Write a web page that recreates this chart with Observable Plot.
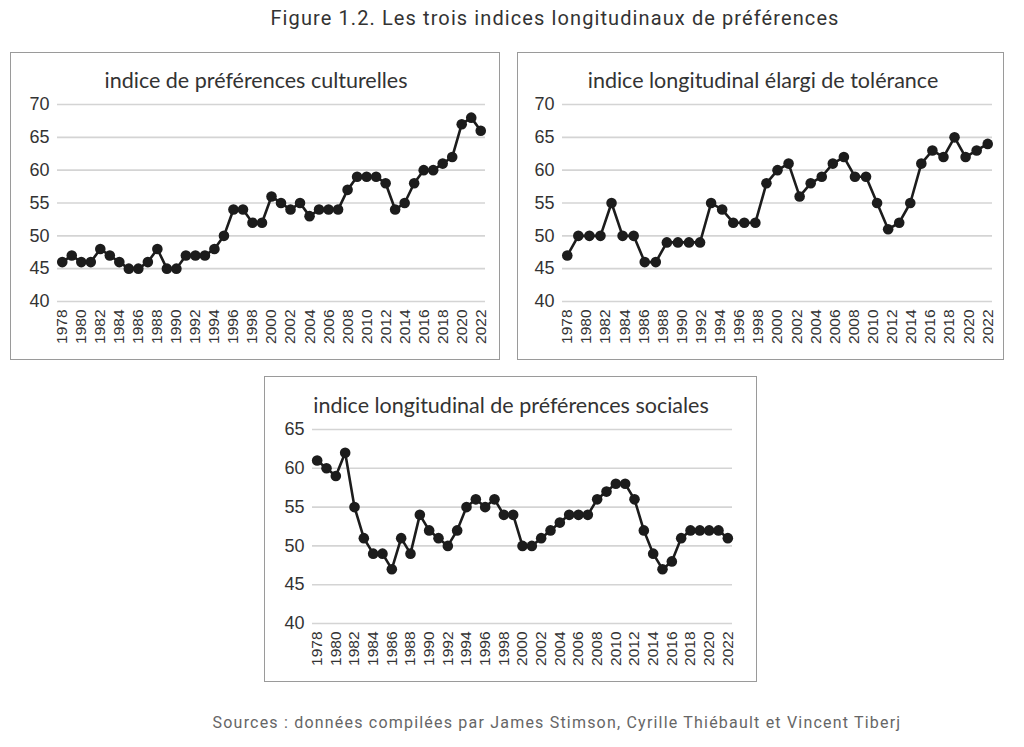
<!DOCTYPE html>
<html><head><meta charset="utf-8">
<script src="https://cdn.jsdelivr.net/npm/d3@7"></script>
<script src="https://cdn.jsdelivr.net/npm/@observablehq/plot@0.6"></script>
<style>
body{margin:0;background:#fff;}
#page{position:relative;width:1024px;height:747px;overflow:hidden;background:#fff;}
.frame{position:absolute;border:1.5px solid #9a9a9a;box-sizing:border-box;}
.ptitle{position:absolute;font-family:Lato,"Open Sans",sans-serif;font-size:21.5px;color:#333;white-space:nowrap;transform:translate(-50%,-50%);}
.chart{position:absolute;}
.ftitle{position:absolute;font-family:Roboto,sans-serif;font-size:20px;color:#333;white-space:nowrap;transform:translate(-50%,-50%);letter-spacing:1.1px;}
.caption{position:absolute;font-family:Roboto,sans-serif;font-size:16px;color:#666;white-space:nowrap;transform:translate(-50%,-50%);letter-spacing:1.2px;}
</style></head><body><div id="page"></div>
<script>
// ---- data ----
const years = [1978,1979,1980,1981,1982,1983,1984,1985,1986,1987,1988,1989,1990,1991,1992,1993,1994,1995,1996,1997,1998,1999,2000,2001,2002,2003,2004,2005,2006,2007,2008,2009,2010,2011,2012,2013,2014,2015,2016,2017,2018,2019,2020,2021,2022];
const xTickYears = [1978,1980,1982,1984,1986,1988,1990,1992,1994,1996,1998,2000,2002,2004,2006,2008,2010,2012,2014,2016,2018,2020,2022];
const culturelles = [46,47,46,46,48,47,46,45,45,46,48,45,45,47,47,47,48,50,54,54,52,52,56,55,54,55,53,54,54,54,57,59,59,59,58,54,55,58,60,60,61,62,67,68,66];
// the reference shows 39 observations stretched across the 1978-2022 axis
const tolerance = [47,50,50,50,55,50,50,46,46,49,49,49,49,55,54,52,52,52,58,60,61,56,58,59,61,62,59,59,55,51,52,55,61,63,62,65,62,63,64];
const sociales = [61,60,59,62,55,51,49,49,47,51,49,54,52,51,50,52,55,56,55,56,54,54,50,50,51,52,53,54,54,54,56,57,58,58,56,52,49,47,48,51,52,52,52,52,51];
const yTicksA = [40,45,50,55,60,65,70];
const yTicksB = [40,45,50,55,60,65];
const titles = ["indice de préférences culturelles","indice longitudinal élargi de tolérance","indice longitudinal de préférences sociales"];
const figTitle = "Figure 1.2. Les trois indices longitudinaux de préférences";
const caption = "Sources : données compilées par James Stimson, Cyrille Thiébault et Vincent Tiberj";

const page = document.getElementById("page");
function add(cls, css, text){const d=document.createElement("div");d.className=cls;Object.assign(d.style,css);if(text!=null)d.textContent=text;page.appendChild(d);return d;}

function panel(data, o){
  return Plot.plot({
    width:o.W, height:o.H, marginLeft:o.ml, marginRight:o.mr, marginTop:o.mt, marginBottom:o.mb,
    style:{fontFamily:"'Liberation Sans', Arial, sans-serif", color:"#333", background:"transparent", overflow:"visible"},
    x:{type:"linear", domain:[1977.5,2022.5]},
    y:{domain:[o.yTicks[0], o.yTicks[o.yTicks.length-1]]},
    marks:[
      Plot.gridY(o.yTicks,{stroke:"#d4d4d4", strokeOpacity:1, strokeWidth:1.6}),
      Plot.axisY(o.yTicks,{tickSize:0, tickPadding:8, fontSize:18, fill:"#333", label:null}),
      Plot.axisX(xTickYears,{tickSize:0, tickRotate:-90, tickPadding:8, fontSize:15.5, fill:"#333", tickFormat:d=>String(d), label:null}),
      Plot.line(data,{x:"x", y:"y", stroke:"#1c1c1c", strokeWidth:2.6}),
      Plot.dot(data,{x:"x", y:"y", r:5.3, fill:"#1c1c1c"})
    ]
  });
}

const d1 = years.map((yr,i)=>({x:yr, y:culturelles[i]}));
const tolX = d3.scaleLinear().domain([0, tolerance.length-1]).range([years[0], years[years.length-1]]);
const d2 = tolerance.map((v,i)=>({x:tolX(i), y:v}));
const d3s = years.map((yr,i)=>({x:yr, y:sociales[i]}));

// frames
add("frame",{left:"10px",top:"52px",width:"490px",height:"308px"});
add("frame",{left:"517px",top:"52px",width:"487px",height:"308px"});
add("frame",{left:"264px",top:"376px",width:"493px",height:"306px"});

const c1 = panel(d1,{W:486,H:302,ml:45,mr:13,mt:50,mb:55,yTicks:yTicksA});
const c2 = panel(d2,{W:482,H:302,ml:43,mr:9,mt:50,mb:55,yTicks:yTicksA});
const c3 = panel(d3s,{W:489,H:302,ml:46,mr:23,mt:51,mb:57,yTicks:yTicksB});
[[c1,12,54],[c2,519,54],[c3,266,378]].forEach(([c,l,t])=>{c.classList.add("chart");c.style.left=l+"px";c.style.top=t+"px";page.appendChild(c);});

add("ptitle",{left:"256px",top:"80px"},titles[0]);
add("ptitle",{left:"763px",top:"80px"},titles[1]);
add("ptitle",{left:"511px",top:"405px"},titles[2]);
add("ftitle",{left:"555px",top:"18px"},figTitle);
add("caption",{left:"557px",top:"722px"},caption);
</script></body></html>
